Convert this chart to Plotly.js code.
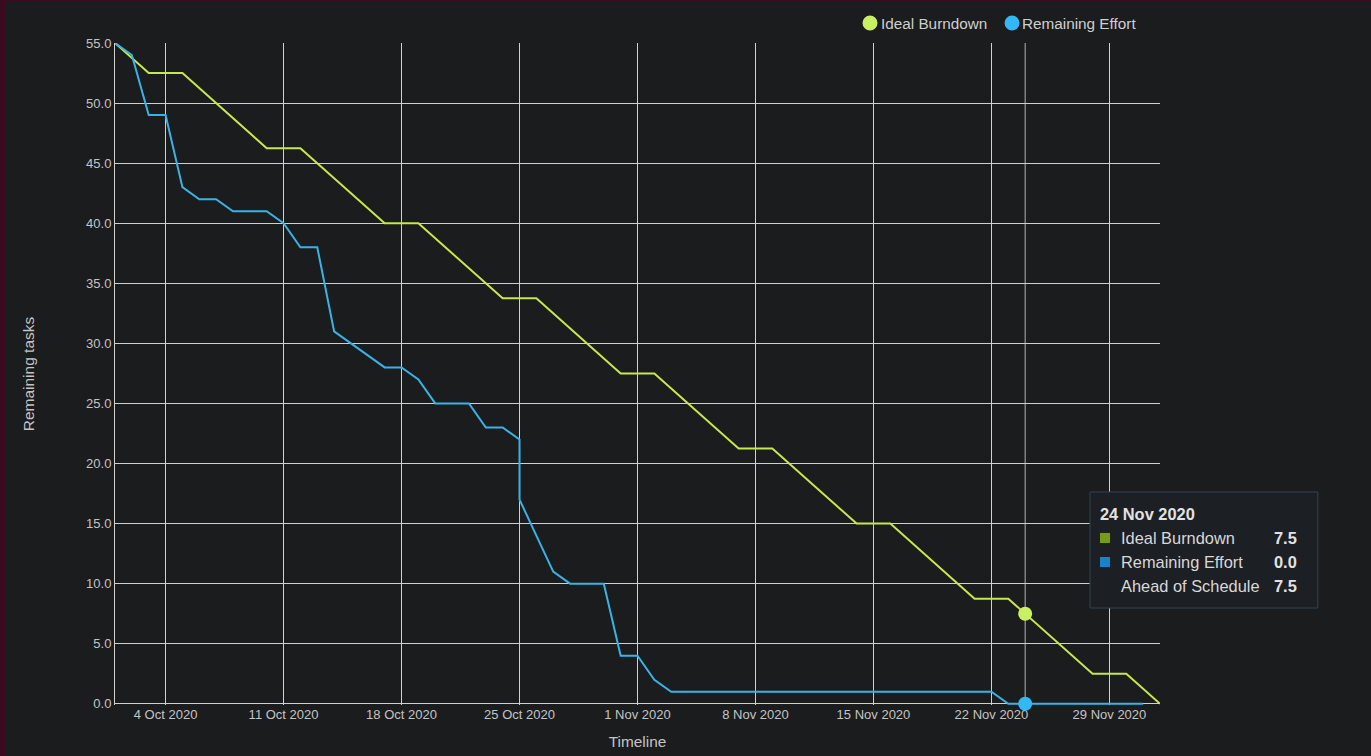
<!DOCTYPE html>
<html>
<head>
<meta charset="utf-8">
<script src="https://cdn.plot.ly/plotly-3.0.1.min.js"></script>
<style>
html,body{margin:0;padding:0;background:#3a0b1f;overflow:hidden;}
#chart{position:absolute;left:5px;top:2px;width:1366px;height:754px;background:#1b1c1e;}
</style>
</head>
<body>
<div id="chart"></div>
<script>
// Ideal burndown breakpoints (weekends flat)
const idealDates = ['2020-10-01','2020-10-03','2020-10-05','2020-10-10','2020-10-12','2020-10-17','2020-10-19','2020-10-24','2020-10-26','2020-10-31','2020-11-02','2020-11-07','2020-11-09','2020-11-14','2020-11-16','2020-11-21','2020-11-23','2020-11-28','2020-11-30','2020-12-02'];
const idealValues = [55,52.5,52.5,46.25,46.25,40,40,33.75,33.75,27.5,27.5,21.25,21.25,15,15,8.75,8.75,2.5,2.5,0];

// Remaining effort (daily)
const effortDates = ['2020-10-01','2020-10-02','2020-10-03','2020-10-04','2020-10-05','2020-10-06','2020-10-07','2020-10-08','2020-10-09','2020-10-10',
  '2020-10-11','2020-10-12','2020-10-13','2020-10-14','2020-10-15','2020-10-16','2020-10-17','2020-10-18','2020-10-19','2020-10-20',
  '2020-10-21','2020-10-22','2020-10-23','2020-10-24','2020-10-25','2020-10-25','2020-10-26','2020-10-27','2020-10-28','2020-10-29','2020-10-30',
  '2020-10-31','2020-11-01','2020-11-02','2020-11-03','2020-11-04','2020-11-05','2020-11-06','2020-11-07','2020-11-08','2020-11-09',
  '2020-11-10','2020-11-11','2020-11-12','2020-11-13','2020-11-14','2020-11-15','2020-11-16','2020-11-17','2020-11-18','2020-11-19',
  '2020-11-20','2020-11-21','2020-11-22','2020-11-23','2020-11-24','2020-11-25','2020-11-26','2020-11-27','2020-11-28','2020-11-29',
  '2020-11-30','2020-12-01'];
const effortValues = [55,54,49,49,43,42,42,41,41,41,
  40,38,38,31,30,29,28,28,27,25,
  25,25,23,23,22,17,14,11,10,10,10,
  4,4,2,1,1,1,1,1,1,1,
  1,1,1,1,1,1,1,1,1,1,
  1,1,1,0,0,0,0,0,0,0,
  0,0];

// Hovered point
const hoverDate = '2020-11-24';
const hoverLabel = '24 Nov 2020';
const hoverIdeal = 7.5;
const hoverEffort = 0.0;
const aheadOfSchedule = 7.5;

const seriesNames = ['Ideal Burndown', 'Remaining Effort'];
const yTicks = [0,5,10,15,20,25,30,35,40,45,50,55];

const idealColor = '#c5e84b';
const effortColor = '#39b2e6';
const idealDot = '#c8f060';
const effortDot = '#32b8f5';
const fontFam = '"Liberation Sans", Arial, sans-serif';

const traces = [
  {x: idealDates, y: idealValues, type:'scatter', mode:'lines', name:seriesNames[0],
   line:{color:idealColor, width:2}, showlegend:false, hoverinfo:'skip'},
  {x: effortDates, y: effortValues, type:'scatter', mode:'lines', name:seriesNames[1],
   line:{color:effortColor, width:2}, showlegend:false, hoverinfo:'skip'},
  {x:[hoverDate], y:[hoverIdeal], type:'scatter', mode:'markers', showlegend:false, hoverinfo:'skip',
   marker:{color:idealDot, size:14}, cliponaxis:false},
  {x:[hoverDate], y:[hoverEffort], type:'scatter', mode:'markers', showlegend:false, hoverinfo:'skip',
   marker:{color:effortDot, size:14}, cliponaxis:false}
];

// tooltip geometry in paper coords
const tipTitleY = 0.2885;
const tipRows = [0.2523, 0.2160, 0.1798];
const tipLabelX = 0.9608, tipValueX = 1.133, tipTitleX = 0.9407;
const tipFont = {family:fontFam, size:16.4, color:'#d8d8d8'};
const tipBold = {family:fontFam, size:16.4, color:'#e2e2e2'};
const legY = 1.0302;
const legDotX = [0.7225, 0.8584];
const legTextX = [0.7311, 0.866];

const annotations = [
  {xref:'paper', yref:'paper', x:tipTitleX, y:tipTitleY, xanchor:'left', yanchor:'middle', showarrow:false,
   text:'<b>'+hoverLabel+'</b>', font:tipBold},
  {xref:'paper', yref:'paper', x:tipLabelX, y:tipRows[0], xanchor:'left', yanchor:'middle', showarrow:false,
   text:seriesNames[0], font:tipFont},
  {xref:'paper', yref:'paper', x:tipValueX, y:tipRows[0], xanchor:'right', yanchor:'middle', showarrow:false,
   text:'<b>'+hoverIdeal.toFixed(1)+'</b>', font:tipBold},
  {xref:'paper', yref:'paper', x:tipLabelX, y:tipRows[1], xanchor:'left', yanchor:'middle', showarrow:false,
   text:seriesNames[1], font:tipFont},
  {xref:'paper', yref:'paper', x:tipValueX, y:tipRows[1], xanchor:'right', yanchor:'middle', showarrow:false,
   text:'<b>'+hoverEffort.toFixed(1)+'</b>', font:tipBold},
  {xref:'paper', yref:'paper', x:tipLabelX, y:tipRows[2], xanchor:'left', yanchor:'middle', showarrow:false,
   text:'Ahead of Schedule', font:tipFont},
  {xref:'paper', yref:'paper', x:tipValueX, y:tipRows[2], xanchor:'right', yanchor:'middle', showarrow:false,
   text:'<b>'+aheadOfSchedule.toFixed(1)+'</b>', font:tipBold},
  // legend labels
  {xref:'paper', yref:'paper', x:legTextX[0], y:legY, xanchor:'left', yanchor:'middle', showarrow:false,
   text:seriesNames[0], font:{family:fontFam, size:15.3, color:'#cfcfcf'}},
  {xref:'paper', yref:'paper', x:legTextX[1], y:legY, xanchor:'left', yanchor:'middle', showarrow:false,
   text:seriesNames[1], font:{family:fontFam, size:15.3, color:'#cfcfcf'}}
];

const shapes = [
  {type:'line', xref:'x', yref:'paper', x0:hoverDate, x1:hoverDate, y0:0, y1:1,
   line:{color:'#b4b4b4', width:1}, layer:'below'},
  {type:'rect', xref:'paper', yref:'paper', x0:0.933, x1:1.151, y0:0.1465, y1:0.3218,
   fillcolor:'#1c1f23', line:{color:'#2f4656', width:1}, layer:'above'},
  {type:'rect', xref:'paper', yref:'paper', x0:0.9426, x1:0.9522, y0:tipRows[0]-0.0076, y1:tipRows[0]+0.0076,
   fillcolor:'#759c14', line:{width:0}},
  {type:'rect', xref:'paper', yref:'paper', x0:0.9426, x1:0.9522, y0:tipRows[1]-0.0076, y1:tipRows[1]+0.0076,
   fillcolor:'#1883c8', line:{width:0}},
  // legend dots
  {type:'circle', xref:'paper', yref:'paper', xsizemode:'pixel', ysizemode:'pixel',
   xanchor:legDotX[0], yanchor:legY, x0:-7.5, x1:7.5, y0:-7.5, y1:7.5, fillcolor:idealDot, line:{width:0}},
  {type:'circle', xref:'paper', yref:'paper', xsizemode:'pixel', ysizemode:'pixel',
   xanchor:legDotX[1], yanchor:legY, x0:-7.5, x1:7.5, y0:-7.5, y1:7.5, fillcolor:effortDot, line:{width:0}}
];

const layout = {
  width:1366, height:754,
  paper_bgcolor:'#1b1c1e', plot_bgcolor:'#1b1c1e',
  margin:{l:110, r:211, t:41, b:51, autoexpand:false},
  font:{family:fontFam, color:'#c4c4c4', size:13},
  showlegend:false,
  xaxis:{type:'date', range:['2020-10-01','2020-12-02'], tick0:'2020-10-04', dtick:7*86400000,
    tickformat:'%-d %b %Y', showgrid:true, gridcolor:'#d0d0d0', gridwidth:1, layer:'below traces',
    showline:false, zeroline:false, ticks:'', tickfont:{size:13, color:'#c4c4c4'},
    title:{text:'Timeline', font:{size:15.4, color:'#c4c4c4'}, standoff:15}, fixedrange:true, automargin:false},
  yaxis:{range:[-0.1,55], tickvals:yTicks, ticktext:yTicks.map(v=>v.toFixed(1)), layer:'below traces',
    showgrid:true, gridcolor:'#d0d0d0', gridwidth:1, showline:true, linecolor:'#d0d0d0',
    zeroline:false, ticks:'', tickfont:{size:13, color:'#c4c4c4'},
    title:{text:'Remaining tasks', font:{size:15.5, color:'#c4c4c4'}, standoff:47}, fixedrange:true, automargin:false},
  shapes:shapes,
  annotations:annotations,
  hovermode:false
};

Plotly.newPlot('chart', traces, layout, {displayModeBar:false, staticPlot:true});
</script>
</body>
</html>
